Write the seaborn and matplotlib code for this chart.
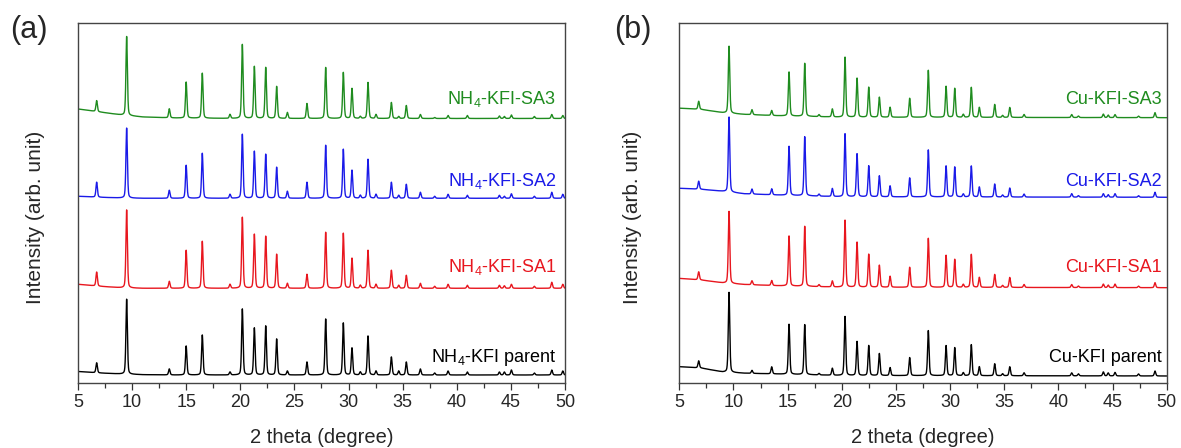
import numpy as np
import pandas as pd
import matplotlib
matplotlib.use("Agg")
import matplotlib.pyplot as plt
import seaborn as sns

# ---------------- data ----------------
two_theta_range = (5, 50)
x_ticks = [5, 10, 15, 20, 25, 30, 35, 40, 45, 50]

# panel (a): NH4-KFI
nh4_labels = [r"NH$_4$-KFI-SA3", r"NH$_4$-KFI-SA2", r"NH$_4$-KFI-SA1", r"NH$_4$-KFI parent"]
nh4_peaks = [6.73, 9.5, 13.44, 15.0, 16.49, 19.05, 20.19, 21.3, 22.35, 23.36, 24.35, 26.16,
             27.89, 29.52, 30.32, 31.09, 31.8, 32.54, 33.96, 34.64, 35.34, 36.64, 37.96,
             39.2, 40.98, 43.94, 44.4, 45.05, 47.17, 48.78, 49.8]
nh4_sa3 = [11, 79, 9, 36, 45, 4, 74, 52, 51, 32, 6, 15, 51, 46, 30, 2, 36, 4, 16, 2, 13, 4, 1, 3, 3, 2.5, 2, 3.5, 2, 4, 3]
nh4_sa2 = [15, 70, 8, 33, 45, 4, 64, 47, 44, 31, 7, 16, 53, 49, 28, 3, 39, 4, 16, 3, 14, 6, 2, 4, 3, 3, 2, 4.5, 2, 6, 4]
nh4_sa1 = [14, 78, 7, 38, 47, 4, 71, 54, 52, 34, 5, 14, 56, 55, 30, 3, 38, 4, 18, 3, 13, 5, 2, 4, 3, 3, 2.5, 4, 2, 6, 4]
nh4_parent = [10, 75, 6, 29, 40, 3, 66, 47, 49, 36, 4, 13, 56, 52, 27, 3, 39, 4, 18, 4, 13, 6, 2, 4, 3, 3, 3, 5, 2, 5, 4]
nh4_offsets = [264.5, 184.7, 94.7, 8.0]

# panel (b): Cu-KFI
cu_labels = ["Cu-KFI-SA3", "Cu-KFI-SA2", "Cu-KFI-SA1", "Cu-KFI parent"]
cu_peaks = [6.79, 9.59, 11.71, 13.53, 15.13, 16.58, 17.9, 19.13, 20.3, 21.41, 22.49, 23.47,
            24.46, 26.27, 27.99, 29.63, 30.43, 31.22, 31.96, 32.7, 34.12, 34.85, 35.51,
            36.83, 41.23, 41.85, 44.15, 44.6, 45.23, 47.4, 48.92]
cu_sa3 = [8, 67, 5, 5, 44, 53, 2, 8, 60, 39, 30, 20, 10, 19, 47, 31, 29, 3, 30, 10, 13, 2, 10, 3, 3, 1.5, 3.5, 2.5, 3, 1.5, 5]
cu_sa2 = [8, 75, 5, 6, 49, 59, 2, 8, 63, 43, 31, 21, 11, 19, 47, 31, 30, 3, 31, 10, 13, 2, 9, 3, 3.5, 1.5, 3.5, 2.5, 3.5, 1.5, 5]
cu_sa1 = [8, 72, 4, 5, 50, 60, 2, 6, 67, 45, 33, 22, 11, 20, 49, 32, 28, 3, 33, 10, 13, 2, 10, 3, 3, 1.5, 3.5, 2.5, 3.5, 1.5, 5]
cu_parent = [7, 80, 3, 7, 50, 50, 1.5, 7, 59, 34, 30, 22, 8, 18, 45, 30, 28, 3, 31, 9, 12, 2, 9, 3, 3, 2, 4, 3, 3.5, 2, 5]
cu_offsets = [265.3, 185.7, 95.3, 7.0]

# low-angle background read at these 2theta positions
bg_x = [5, 7, 9, 11, 14, 20, 50]
nh4_bg = [[9.5, 6.5, 3.5, 1.5, 0.5, 0, 0],
          [2, 1, 0.3, 0, 0, 0, 0],
          [4, 2, 0.5, 0, 0, 0, 0],
          [3.5, 2, 1, 0.3, 0, 0, 0]]
cu_bg = [[9.5, 8.3, 5, 3.3, 2, 0.5, 0],
         [9, 8, 6, 3.5, 2.3, 0.5, 0],
         [9.3, 7.7, 4.8, 3.2, 2, 0.5, 0],
         [9.3, 8, 4, 2.8, 2, 0.5, 0]]

label_y = [279, 197, 110.7, 21.3]
colors = ["#1f8c1f", "#1a1ae8", "#e8161e", "#000000"]

# ---------------- helpers ----------------
xgrid = np.arange(5.0, 50.0001, 0.01)


def pattern(peaks, heights, bg, offset, w=0.07):
    y = np.full_like(xgrid, offset) + np.interp(xgrid, bg_x, bg)
    for p, h in zip(peaks, heights):
        g = np.exp(-0.5 * ((xgrid - p) / w) ** 2)
        l = 1.0 / (1.0 + ((xgrid - p) / w) ** 2)
        y += h * (0.6 * g + 0.4 * l)
    return y


sns.set_style("ticks")
plt.rcParams["font.family"] = ["Liberation Sans", "DejaVu Sans"]
plt.rcParams["mathtext.fontset"] = "custom"
plt.rcParams["mathtext.rm"] = "Liberation Sans"
plt.rcParams["mathtext.it"] = "Liberation Sans:italic"
plt.rcParams["mathtext.bf"] = "Liberation Sans:bold"

fig = plt.figure(figsize=(11.81, 4.48), dpi=100)
ax1 = fig.add_axes([0.066, 0.1451, 0.4124, 0.8036])
ax2 = fig.add_axes([0.5752, 0.1451, 0.4127, 0.8036])

panels = [
    (ax1, nh4_labels, nh4_peaks, [nh4_sa3, nh4_sa2, nh4_sa1, nh4_parent], nh4_offsets, nh4_bg, 49.2, -0.068),
    (ax2, cu_labels, cu_peaks, [cu_sa3, cu_sa2, cu_sa1, cu_parent], cu_offsets, cu_bg, 49.55, -0.076),
]

for ax, labels, peaks, series, offsets, bgs, lx, ylx in panels:
    for lab, hts, off, bg, col, ly in zip(labels, series, offsets, bgs, colors, label_y):
        df = pd.DataFrame({"two_theta": xgrid, "intensity": pattern(peaks, hts, bg, off)})
        sns.lineplot(data=df, x="two_theta", y="intensity", ax=ax, color=col,
                     linewidth=1.0, estimator=None, sort=False)
        ax.text(lx, ly, lab, color=col, fontsize=13, ha="right", va="baseline")
    ax.set_xlim(*two_theta_range)
    ax.set_ylim(0, 360)
    ax.set_xticks(x_ticks)
    ax.set_xticks(np.arange(7.5, 50, 5), minor=True)
    ax.tick_params(axis="x", which="major", direction="out", length=5, width=0.9,
                   labelsize=13, color="#333333", pad=3)
    ax.tick_params(axis="x", which="minor", direction="out", length=3.5, width=0.9, color="#333333")
    ax.set_yticks([])
    ax.set_xlabel("2 theta (degree)", fontsize=14.5, labelpad=12)
    ax.set_ylabel("Intensity (arb. unit)", fontsize=15)
    ax.yaxis.set_label_coords(ylx, 0.46)
    for s in ax.spines.values():
        s.set_visible(True)
        s.set_color("#444444")
        s.set_linewidth(1.0)

fig.text(10 / 1181, 1 - 30 / 448, "(a)", fontsize=22, ha="left", va="center")
fig.text(614 / 1181, 1 - 30 / 448, "(b)", fontsize=22, ha="left", va="center")

fig.savefig("out.png", dpi=100)
